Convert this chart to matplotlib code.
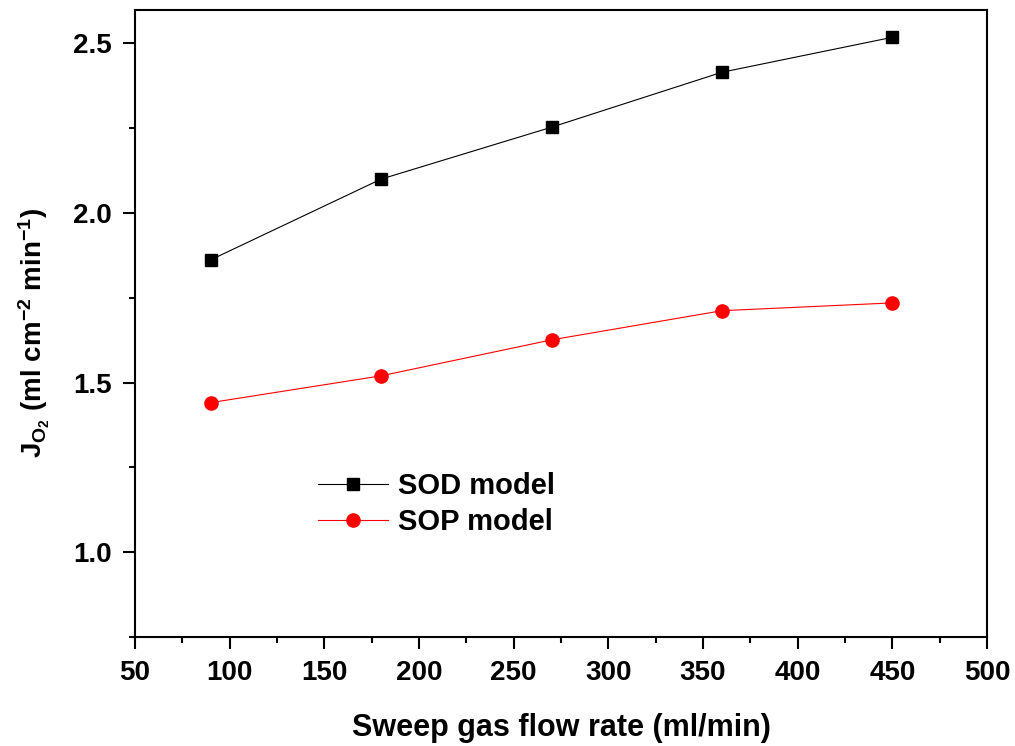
import matplotlib
matplotlib.use("Agg")
import matplotlib.pyplot as plt
from matplotlib.ticker import MultipleLocator

plt.rcParams['font.family'] = ['Liberation Sans', 'DejaVu Sans']
plt.rcParams['font.weight'] = 'bold'
plt.rcParams['mathtext.fontset'] = 'custom'
plt.rcParams['mathtext.rm'] = 'Liberation Sans:bold'
plt.rcParams['mathtext.it'] = 'Liberation Sans:bold'
plt.rcParams['mathtext.bf'] = 'Liberation Sans:bold'

flow_rate = [90, 180, 270, 360, 450]
sod_model = [1.862, 2.100, 2.253, 2.415, 2.518]
sop_model = [1.441, 1.520, 1.626, 1.712, 1.735]

fig = plt.figure(figsize=(10.15, 7.46), dpi=100)
ax = fig.add_axes([135/1015, 1 - 637/746, (987-135)/1015, (637-9.5)/746])

ax.plot(flow_rate, sod_model, color='black', lw=0.8, marker='s', ms=8.5,
        markerfacecolor='black', markeredgecolor='black', label='SOD model')
ax.plot(flow_rate, sop_model, color='red', lw=0.8, marker='o', ms=9.5,
        markerfacecolor='red', markeredgecolor='red', label='SOP model')

ax.set_xlim(50, 500)
ax.set_ylim(0.75, 2.6)
ax.xaxis.set_major_locator(MultipleLocator(50))
ax.xaxis.set_minor_locator(MultipleLocator(25))
ax.yaxis.set_major_locator(MultipleLocator(0.5))
ax.yaxis.set_minor_locator(MultipleLocator(0.25))
ax.tick_params(which='major', direction='out', length=8.5, width=1.5, labelsize=20)
ax.tick_params(axis='x', which='major', pad=8)
ax.tick_params(axis='y', which='major', pad=8)
ax.tick_params(which='minor', direction='out', length=4, width=1.5)
for lab in ax.get_xticklabels() + ax.get_yticklabels():
    lab.set_fontweight('bold')
for s in ax.spines.values():
    s.set_linewidth(1.5)

ax.set_xlabel('Sweep gas flow rate (ml/min)', fontsize=22, fontweight='bold')
ax.xaxis.set_label_coords(0.5, (637 - 728) / 627.5, transform=ax.transAxes)
ax.xaxis.label.set_va('center')
ax.set_ylabel(r'J$_{\mathrm{O_2}}$ (ml cm$^{-2}$ min$^{-1}$)', fontsize=20, fontweight='bold')
ax.yaxis.set_label_coords((34 - 135) / 852, (637 - 333) / 627.5, transform=ax.transAxes)
ax.yaxis.label.set_va('center')

leg = fig.legend(loc='upper left', bbox_to_anchor=(318/1015, 1 - 472/746), frameon=False,
                 fontsize=21, handlelength=2.4, handletextpad=0.35, labelspacing=0.28,
                 borderpad=0, borderaxespad=0)
for t in leg.get_texts():
    t.set_fontweight('bold')

fig.savefig('out.png', dpi=100)
